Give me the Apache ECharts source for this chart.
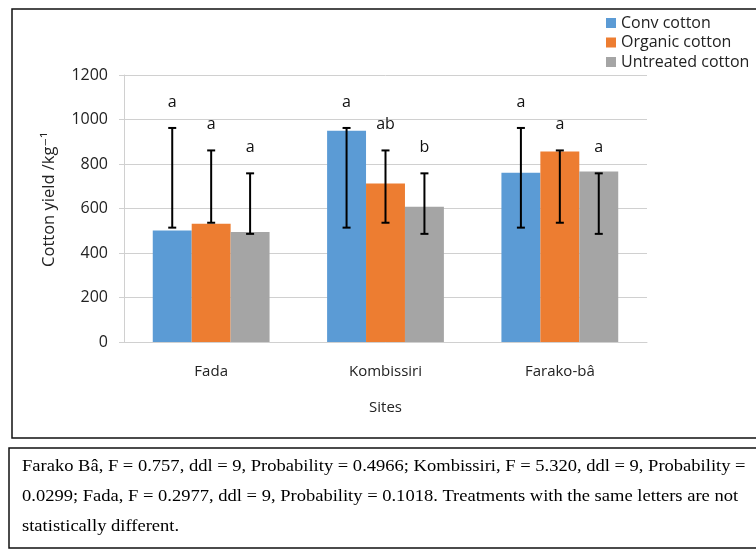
<!DOCTYPE html>
<html><head><meta charset="utf-8">
<script src="https://cdn.jsdelivr.net/npm/echarts@6/dist/echarts.min.js"></script>
<style>html,body{margin:0;padding:0;background:#fff}#c{width:756px;height:549px}</style>
</head><body><div id="c"></div>
<script>
const categories = ['Fada', 'Kombissiri', 'Farako-bâ'];
const seriesNames = ['Conv cotton', 'Organic cotton', 'Untreated cotton'];
const convYield = [501, 949, 761];
const organicYield = [531, 712, 856];
const untreatedYield = [494, 608, 766];
const convErrLow = [514, 514, 514];
const convErrHigh = [962, 962, 962];
const organicErrLow = [536, 536, 536];
const organicErrHigh = [861, 861, 861];
const untreatedErrLow = [486, 486, 486];
const untreatedErrHigh = [758, 758, 758];
const convLetters = ['a', 'a', 'a'];
const organicLetters = ['a', 'ab', 'a'];
const untreatedLetters = ['a', 'b', 'a'];
const yTicks = [0, 200, 400, 600, 800, 1000, 1200];
const captionLines = [
  'Farako Bâ, F = 0.757, ddl = 9, Probability = 0.4966; Kombissiri, F = 5.320, ddl = 9, Probability =',
  '0.0299; Fada, F = 0.2977, ddl = 9, Probability = 0.1018. Treatments with the same letters are not',
  'statistically different.'
];

const colors = ['#5B9BD5', '#ED7D31', '#A5A5A5'];
const values = [convYield, organicYield, untreatedYield];
const errLow = [convErrLow, organicErrLow, untreatedErrLow];
const errHigh = [convErrHigh, organicErrHigh, untreatedErrHigh];
const letters = [convLetters, organicLetters, untreatedLetters];
const catGap = 0.33;

const chart = echarts.init(document.getElementById('c'));
const font = '"Open Sans", Lato, sans-serif';

const errData = [];
for (let s = 0; s < 3; s++) for (let i = 0; i < categories.length; i++) {
  errData.push([i, errLow[s][i], errHigh[s][i], s, letters[s][i]]);
}

const series = seriesNames.map((n, s) => ({
  name: n, type: 'bar', data: values[s], barGap: '0%', barCategoryGap: (catGap * 100) + '%',
  itemStyle: { color: colors[s] }, z: 2
}));
series.push({
  type: 'custom', name: 'err', data: errData, z: 5, silent: true,
  encode: { x: 0, y: [1, 2] },
  renderItem: function (params, api) {
    const i = api.value(0), s = api.value(3);
    const bandW = api.size([1, 0])[0];
    const bw = bandW * (1 - catGap) / 3;
    const c0 = api.coord([i, api.value(1)]);
    const c1 = api.coord([i, api.value(2)]);
    const x = c0[0] + (s - 1) * bw;
    const half = 4;
    const st = { stroke: '#000', lineWidth: 2 };
    return {
      type: 'group', children: [
        { type: 'line', shape: { x1: x, y1: c0[1], x2: x, y2: c1[1] }, style: st },
        { type: 'line', shape: { x1: x - half, y1: c0[1], x2: x + half, y2: c0[1] }, style: st },
        { type: 'line', shape: { x1: x - half, y1: c1[1], x2: x + half, y2: c1[1] }, style: st },
        { type: 'text', x: x, y: c1[1] - 26, style: { text: api.value(4), fill: '#111', font: '16px ' + font, align: 'center', verticalAlign: 'middle' } }
      ]
    };
  }
});

const graphic = [
  { type: 'rect', shape: { x: 12, y: 9, width: 760, height: 429 }, style: { fill: 'none', stroke: '#111', lineWidth: 1.5 }, z: -1 },
  { type: 'rect', shape: { x: 9, y: 448, width: 760, height: 100 }, style: { fill: 'none', stroke: '#111', lineWidth: 1.5 }, z: -1 }
];
captionLines.forEach((t, k) => {
  graphic.push({ type: 'text', x: 22, y: 467 + k * 30, scaleX: 1.158, style: { text: t, fill: '#000', font: '16px "Liberation Serif", "Times New Roman", serif', verticalAlign: 'middle', align: 'left' } });
});

chart.setOption({
  animation: false,
  color: colors,
  grid: { left: 124, right: 109, top: 75, bottom: 207 },
  legend: {
    data: seriesNames, orient: 'vertical', left: 601, top: 10, itemWidth: 10, itemHeight: 10, itemGap: 3.5,
    textStyle: { fontFamily: font, fontSize: 16, color: '#222', lineHeight: 16 }, icon: 'rect'
  },
  xAxis: {
    type: 'category', data: categories,
    axisLine: { lineStyle: { color: '#d0d0d0', width: 1 } }, axisTick: { show: false },
    axisLabel: { fontFamily: font, fontSize: 15, color: '#222', margin: 22 },
    name: 'Sites', nameLocation: 'middle', nameGap: 58,
    nameTextStyle: { fontFamily: font, fontSize: 15, color: '#222' }
  },
  yAxis: {
    type: 'value', min: yTicks[0], max: yTicks[yTicks.length - 1], interval: yTicks[1] - yTicks[0],
    axisLine: { show: true, lineStyle: { color: '#d0d0d0' } },
    axisTick: { show: true, length: 5, lineStyle: { color: '#d0d0d0' } },
    splitLine: { lineStyle: { color: '#d0d0d0', width: 1 } },
    axisLabel: { fontFamily: font, fontSize: 16, color: '#222', margin: 16, formatter: function (v) { return String(v); } },
    name: 'Cotton yield /kg⁻¹', nameLocation: 'middle', nameGap: 66, nameRotate: 90,
    nameTextStyle: { fontFamily: '"Open Sans", "DejaVu Sans", sans-serif', fontSize: 16.5, color: '#222', padding: [0, 0, 0, 18] }
  },
  series: series,
  graphic: graphic
});
</script></body></html>
